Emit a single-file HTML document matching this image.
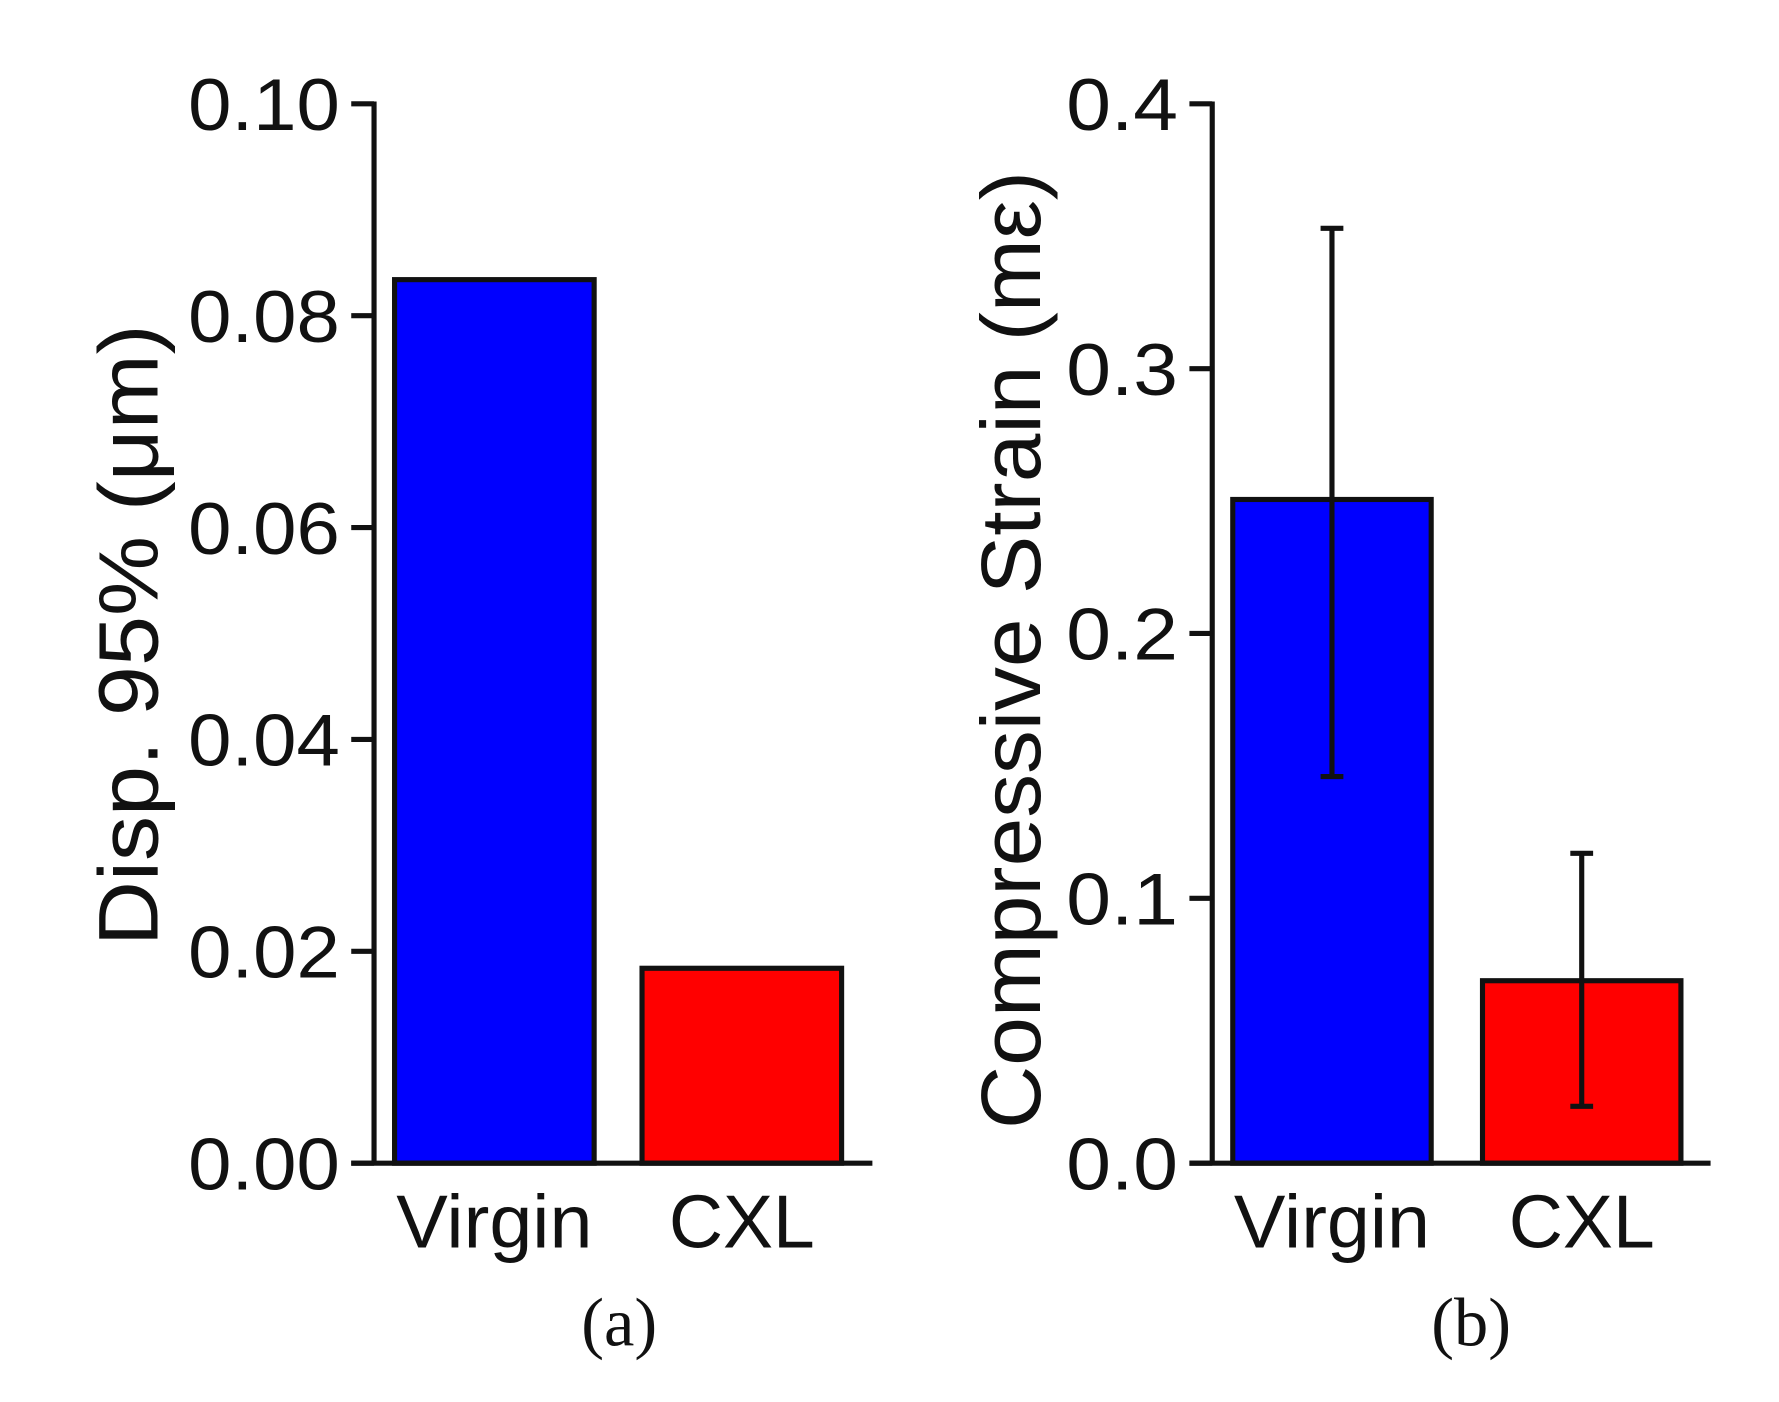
<!DOCTYPE html>
<html><head><meta charset="utf-8"><style>
html,body{margin:0;padding:0;background:#fff;width:1779px;height:1402px;overflow:hidden}
svg{display:block}
text{font-family:"Liberation Sans",sans-serif;fill:#111}
</style></head><body>
<svg id="chart" width="1779" height="1402" viewBox="0 0 1560 1229.4" preserveAspectRatio="none" xmlns="http://www.w3.org/2000/svg"></svg>
<script>
const categories = ["Virgin", "CXL"];
const dispValues = [0.0834, 0.0184];
const dispTicks = ["0.00","0.02","0.04","0.06","0.08","0.10"];
const strainValues = [0.2506, 0.0689];
const strainErrHigh = [0.353, 0.117];
const strainErrLow = [0.146, 0.0215];
const strainTicks = ["0.0","0.1","0.2","0.3","0.4"];
const colors = ["#0000ff", "#ff0000"];

const svg = document.getElementById('chart');
const NS = 'http://www.w3.org/2000/svg';
function mk(tag, attrs, parent){const e=document.createElementNS(NS,tag);for(const k in attrs)e.setAttribute(k,attrs[k]);(parent||svg).appendChild(e);return e;}

function panel(cfg){
  const g = mk('g',{});
  
  
  const y0=1020, y1=91;
  const yScale = v => y0 - (v/cfg.max)*(y0-y1);
  const xScale = i => cfg.barX[i];
  cfg.values.forEach((v,i)=>{
    const r = mk('rect',{x:xScale(i),y:yScale(v),width:cfg.barW,height:y0-yScale(v),fill:colors[i],stroke:'#111','stroke-width':4.5},g);
    
    
    const t = mk('text',{x:xScale(i)+cfg.barW/2,y:1094,'font-size':66,'text-anchor':'middle',textLength:i===0?172:128,lengthAdjust:'spacingAndGlyphs'},g);
    t.textContent = categories[i];
    
    
  });
  if(cfg.errHi){
    cfg.values.forEach((v,i)=>{
      const cx = xScale(i)+cfg.barW/2;
      const eg = mk('g',{stroke:'#111','stroke-width':4.5},g);
      
      
      mk('line',{x1:cx,x2:cx,y1:yScale(cfg.errHi[i]),y2:yScale(cfg.errLo[i])},eg);
      mk('line',{x1:cx-10,x2:cx+10,y1:yScale(cfg.errHi[i]),y2:yScale(cfg.errHi[i])},eg);
      mk('line',{x1:cx-10,x2:cx+10,y1:yScale(cfg.errLo[i]),y2:yScale(cfg.errLo[i])},eg);
    });
  }
  const ax = mk('g',{stroke:'#111','stroke-width':4.5},g);
  
  
  mk('line',{x1:cfg.axX,x2:cfg.axX,y1:y1-2,y2:y0+2},ax);
  mk('line',{x1:cfg.axX-20,x2:cfg.axEnd,y1:y0,y2:y0},ax);
  cfg.ticks.forEach((lab,i)=>{
    const v = cfg.max*i/(cfg.ticks.length-1);
    const y = yScale(v);
    mk('line',{x1:cfg.axX-20,x2:cfg.axX,y1:y,y2:y},ax);
    const t = mk('text',{x:cfg.axX-30,y:y+23,'font-size':64,'text-anchor':'end',textLength:cfg.tickW,lengthAdjust:'spacingAndGlyphs'},g);
    t.textContent = lab;
    
    
  });
  const yt = mk('text',{x:0,y:0,'font-size':74,'text-anchor':'middle',textLength:cfg.titleLen,lengthAdjust:'spacingAndGlyphs',transform:`translate(${cfg.titleX},${cfg.titleY}) rotate(-90)`},g);
  yt.textContent = cfg.title;
  
  
  const cap = mk('text',{x:cfg.capX,y:1180,'font-size':60,'text-anchor':'middle',style:'font-family:"Liberation Serif",serif'},g);
  cap.textContent = cfg.caption;
  
  
}
panel({name:'panel-a-displacement',values:dispValues,max:0.10,ticks:dispTicks,tickW:133,barX:[346,563],barW:175,axX:328,axEnd:765,title:'Disp. 95% (μm)',titleLen:545,titleX:138,titleY:557,caption:'(a)',capX:543});
panel({name:'panel-b-strain',values:strainValues,errHi:strainErrHigh,errLo:strainErrLow,max:0.4,ticks:strainTicks,tickW:98,barX:[1081,1300],barW:174,axX:1063,axEnd:1500,title:'Compressive Strain (mε)',titleLen:840,titleX:912,titleY:570,caption:'(b)',capX:1290});
</script>
</body></html>
